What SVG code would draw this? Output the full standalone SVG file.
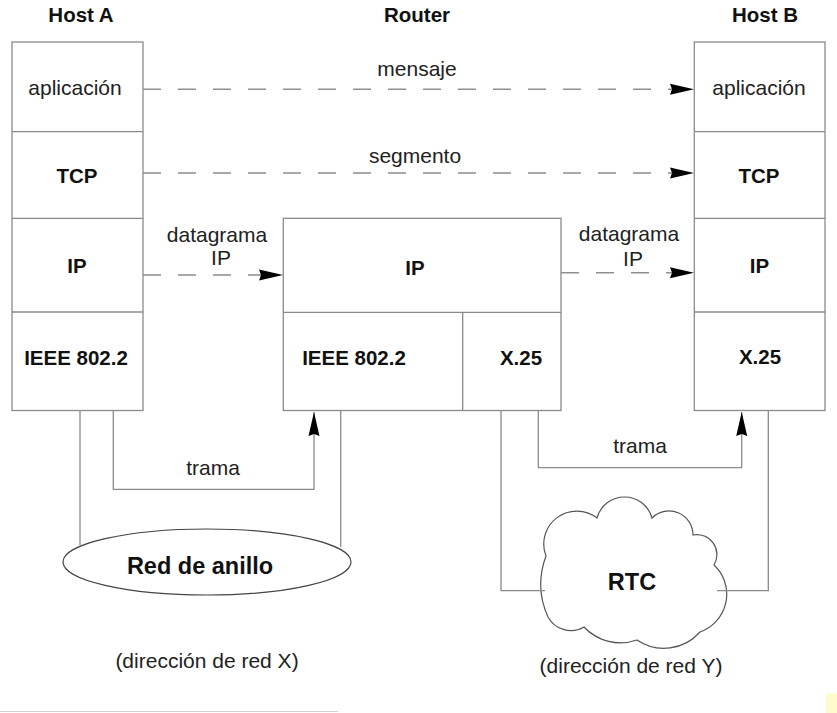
<svg xmlns="http://www.w3.org/2000/svg" width="837" height="713" viewBox="0 0 837 713">
<style>
.box{fill:#fff;stroke:#8a8a8a;stroke-width:1.3}
.ln{fill:none;stroke:#8a8a8a;stroke-width:1.3}
.dash{fill:none;stroke:#8f8f8f;stroke-width:1.6;stroke-dasharray:18 17}
.b{font-family:"Liberation Sans",Arial,sans-serif;font-weight:bold;font-size:20.5px;fill:#111;text-anchor:middle}
.r{font-family:"Liberation Sans",Arial,sans-serif;font-size:21px;fill:#222;text-anchor:middle}
.big{font-family:"Liberation Sans",Arial,sans-serif;font-weight:bold;font-size:23.5px;fill:#111;text-anchor:middle}
</style>
<defs>
<marker id="ah" markerUnits="userSpaceOnUse" markerWidth="25" markerHeight="13" viewBox="0 0 25 13" refX="24" refY="6.5" orient="auto">
<path d="M0,1 L24,6.5 L0,12 L2,6.5 z" fill="#000"/>
</marker>
</defs>
<rect width="837" height="713" fill="#fff"/>

<text class="b" x="81" y="22">Host A</text>
<text class="b" x="417" y="22">Router</text>
<text class="b" x="765" y="22">Host B</text>

<g id="hostA">
<rect class="box" x="12" y="42" width="131" height="368.5"/>
<line class="ln" x1="12" y1="131.7" x2="143" y2="131.7"/>
<line class="ln" x1="12" y1="218.3" x2="143" y2="218.3"/>
<line class="ln" x1="12" y1="312" x2="143" y2="312"/>
<text class="r" x="75" y="95">aplicación</text>
<text class="b" x="77" y="183">TCP</text>
<text class="b" x="77" y="273">IP</text>
<text class="b" x="76" y="365">IEEE 802.2</text>
</g>

<g id="router">
<rect class="box" x="283.3" y="218.3" width="277.7" height="192.2"/>
<line class="ln" x1="283.3" y1="312.3" x2="561" y2="312.3"/>
<line class="ln" x1="462.7" y1="312.3" x2="462.7" y2="410.5"/>
<text class="b" x="415" y="275">IP</text>
<text class="b" x="354" y="365">IEEE 802.2</text>
<text class="b" x="521" y="365">X.25</text>
</g>

<g id="hostB">
<rect class="box" x="694.3" y="42" width="130.7" height="368.5"/>
<line class="ln" x1="694.3" y1="131.7" x2="825" y2="131.7"/>
<line class="ln" x1="694.3" y1="218.3" x2="825" y2="218.3"/>
<line class="ln" x1="694.3" y1="312" x2="825" y2="312"/>
<text class="r" x="759" y="95">aplicación</text>
<text class="b" x="759" y="183">TCP</text>
<text class="b" x="759.5" y="273">IP</text>
<text class="b" x="760" y="364">X.25</text>
</g>

<g id="ring">
<ellipse cx="207" cy="562" rx="144" ry="33" fill="#fff" stroke="#444" stroke-width="1.2"/>
<text class="big" x="200" y="574">Red de anillo</text>
</g>

<g id="rtc">
<path d="M548,617 A80,80 0 0 1 546,556 A33,33 0 0 1 597,518 A28.5,28.5 0 0 1 652,518 A24,24 0 0 1 693,535 A20,20 0 0 1 714,565 A40,40 0 0 1 700,632 A48,48 0 0 1 637,640 A50,50 0 0 1 584,627 A26,26 0 0 1 548,617 z" fill="#fff" stroke="#555" stroke-width="1.2"/>
<text class="big" x="632" y="590">RTC</text>
</g>

<g id="connectors">
<line class="dash" x1="143" y1="89.3" x2="694" y2="89.3" marker-end="url(#ah)"/>
<line class="dash" x1="143" y1="173" x2="694" y2="173" marker-end="url(#ah)"/>
<line class="dash" x1="143" y1="275" x2="283" y2="275" marker-end="url(#ah)"/>
<line class="dash" x1="561" y1="272.7" x2="694" y2="272.7" marker-end="url(#ah)"/>
<polyline class="ln" points="113.3,410.5 113.3,489.3 314,489.3 314,412" marker-end="url(#ah)"/>
<polyline class="ln" points="538.3,410.5 538.3,467.7 741.7,467.7 741.7,412" marker-end="url(#ah)"/>
<line class="ln" x1="80" y1="410.5" x2="80" y2="545"/>
<line class="ln" x1="340.7" y1="410.5" x2="340.7" y2="547"/>
<polyline class="ln" points="501,410.5 501,590.7 545,590.7"/>
<polyline class="ln" points="717,590.7 768.3,590.7 768.3,410.5"/>
</g>

<g id="labels">
<text class="r" x="417" y="76">mensaje</text>
<text class="r" x="415" y="163">segmento</text>
<text class="r" x="217" y="242">datagrama</text>
<text class="r" x="221" y="265">IP</text>
<text class="r" x="629" y="241">datagrama</text>
<text class="r" x="633" y="266">IP</text>
<text class="r" x="213" y="475">trama</text>
<text class="r" x="640" y="453">trama</text>
<text class="r" x="207" y="668">(dirección de red X)</text>
<text class="r" x="631" y="673">(dirección de red Y)</text>
</g>

<line x1="0" y1="711.5" x2="338" y2="711.5" stroke="#d0d0d0" stroke-width="1.2"/>
<rect x="826" y="693" width="11" height="20" fill="#fffbcc"/>
</svg>
